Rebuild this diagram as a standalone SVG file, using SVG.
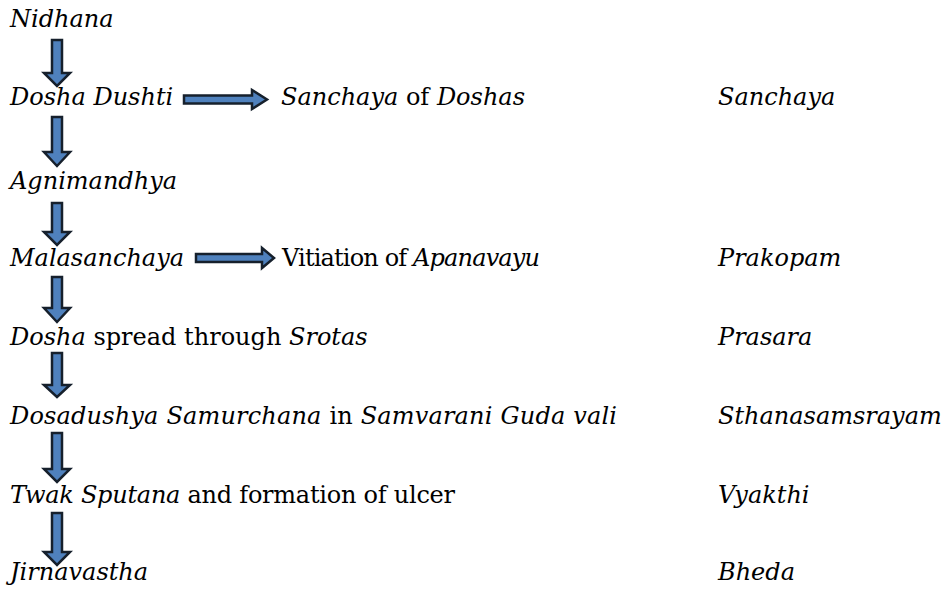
<svg xmlns="http://www.w3.org/2000/svg" width="942" height="591" viewBox="0 0 942 591">
<style>
text{font-family:"DejaVu Serif","Liberation Serif",serif;font-size:24px;fill:#000}
.i{font-style:italic}
.arr{fill:#4f81bd;stroke:#16202c;stroke-width:2.5;stroke-linejoin:miter}
</style>
<rect width="942" height="591" fill="#fff"/>
<g id="connectors">
<path class="arr" d="M52,40 L62,40 L62,73 L70,73 L57,86 L44,73 L52,73 Z"/>
<path class="arr" d="M52,117 L62,117 L62,152 L70,152 L57,166 L44,152 L52,152 Z"/>
<path class="arr" d="M52,203 L62,203 L62,232 L70,232 L57,245 L44,232 L52,232 Z"/>
<path class="arr" d="M52,277 L62,277 L62,308 L70,308 L57,322 L44,308 L52,308 Z"/>
<path class="arr" d="M52,353 L62,353 L62,385 L70,385 L57,397 L44,385 L52,385 Z"/>
<path class="arr" d="M52,433 L62,433 L62,469 L70,469 L57,482 L44,469 L52,469 Z"/>
<path class="arr" d="M52,513 L62,513 L62,552 L70,552 L57,565 L44,552 L52,552 Z"/>
<path class="arr" d="M184,95.5 L252,95.5 L252,90 L267,99.5 L252,109 L252,103.5 L184,103.5 Z"/>
<path class="arr" d="M196,254 L262,254 L262,248 L274,258 L262,268 L262,262 L196,262 Z"/>
</g>
<g id="n1"><text x="10" y="27" class="i">Nidhana</text></g>
<g id="n2"><text x="10" y="105" class="i">Dosha Dushti</text></g>
<g id="n3"><text x="281" y="105"><tspan class="i">Sanchaya</tspan> of <tspan class="i">Doshas</tspan></text></g>
<g id="s1"><text x="718" y="105" class="i">Sanchaya</text></g>
<g id="n4"><text x="10" y="189" class="i">Agnimandhya</text></g>
<g id="n5"><text x="10" y="266" class="i">Malasanchaya</text></g>
<g id="n6"><text x="282" y="266" textLength="258">Vitiation of <tspan class="i">Apanavayu</tspan></text></g>
<g id="s2"><text x="718" y="266" class="i">Prakopam</text></g>
<g id="n7"><text x="10" y="345"><tspan class="i">Dosha</tspan> spread through <tspan class="i">Srotas</tspan></text></g>
<g id="s3"><text x="718" y="345" class="i">Prasara</text></g>
<g id="n8"><text x="10" y="424" textLength="607"><tspan class="i">Dosadushya Samurchana</tspan> in <tspan class="i">Samvarani Guda vali</tspan></text></g>
<g id="s4"><text x="718" y="424" class="i">Sthanasamsrayam</text></g>
<g id="n9"><text x="10" y="503" textLength="445"><tspan class="i">Twak Sputana</tspan> and formation of ulcer</text></g>
<g id="s5"><text x="718" y="503" class="i">Vyakthi</text></g>
<g id="n10"><text x="10" y="580" class="i">Jirnavastha</text></g>
<g id="s6"><text x="718" y="580" class="i">Bheda</text></g>
</svg>
